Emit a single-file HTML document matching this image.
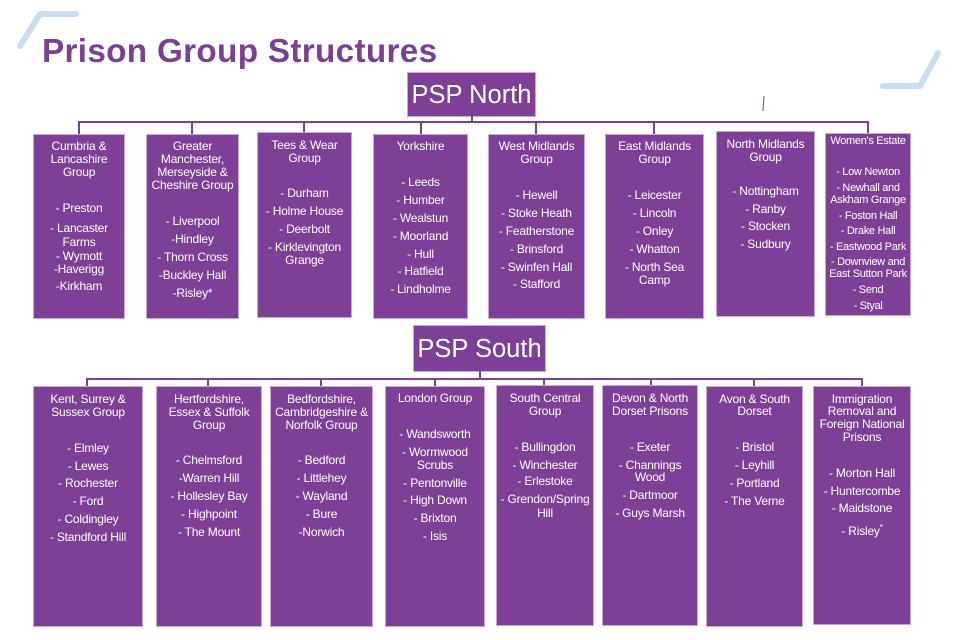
<!DOCTYPE html>
<html><head><meta charset="utf-8"><style>
body{margin:0;width:960px;height:640px;background:#fff;position:relative;overflow:hidden;font-family:"Liberation Sans",Arial,sans-serif}
.c{position:absolute;top:0;height:640px}
.bx{position:absolute;left:0;right:0;background:#7e3f96;border:1px solid #c9a9d4;box-sizing:border-box}
.c p{position:absolute;left:-4px;right:-4px;margin:0;text-align:center;color:#fff;font-size:12px;line-height:14px;height:14px;white-space:nowrap;letter-spacing:-0.2px}
.w p{font-size:11px;letter-spacing:-0.3px}
.ln{position:absolute;background:#7b3f94}
.h{position:absolute;background:#7e3f96;color:#fff;font-size:25.5px;text-align:center;border:1px solid #c9a9d4;box-sizing:border-box;white-space:nowrap}
</style></head><body>
<svg width="960" height="640" style="position:absolute;left:0;top:0">
<polyline points="20,46 40,14 76,14" fill="none" stroke="#c9dcf0" stroke-width="6" stroke-linecap="round" stroke-linejoin="round"/>
<polyline points="938,53 920,86 883,86" fill="none" stroke="#c9dcf0" stroke-width="6" stroke-linecap="round" stroke-linejoin="round"/>
<line x1="764" y1="96" x2="763" y2="111" stroke="#7b3f94" stroke-width="1"/>
</svg>
<div style="position:absolute;left:42px;top:33px;font-size:33.3px;font-weight:bold;color:#7b3f94;letter-spacing:0.3px;white-space:nowrap">Prison Group Structures</div>
<div class="h" style="left:407px;top:72px;width:129px;height:45px;line-height:44px">PSP North</div>
<div class="ln" style="left:471px;top:116px;width:2px;height:6px"></div>
<div class="ln" style="left:78px;top:121px;width:791px;height:2px"></div>
<div class="ln" style="left:78px;top:121px;width:2px;height:13px"></div>
<div class="ln" style="left:191px;top:121px;width:2px;height:13px"></div>
<div class="ln" style="left:303px;top:121px;width:2px;height:11px"></div>
<div class="ln" style="left:420px;top:121px;width:2px;height:13px"></div>
<div class="ln" style="left:535px;top:121px;width:2px;height:13px"></div>
<div class="ln" style="left:653px;top:121px;width:2px;height:13px"></div>
<div class="ln" style="left:867px;top:121px;width:2px;height:12px"></div>

<div class="c" style="left:33px;width:92px"><div class="bx" style="top:134px;height:185px"></div>
<p style="top:139px">Cumbria &amp;</p><p style="top:152px">Lancashire</p><p style="top:165px">Group</p>
<p style="top:201px">- Preston</p><p style="top:221px">- Lancaster</p><p style="top:235px">Farms</p><p style="top:249px">- Wymott</p><p style="top:262px">-Haverigg</p><p style="top:279px">-Kirkham</p></div>
<div class="c" style="left:146px;width:93px"><div class="bx" style="top:134px;height:185px"></div>
<p style="top:139px">Greater</p><p style="top:152px">Manchester,</p><p style="top:165px">Merseyside &amp;</p><p style="top:178px">Cheshire Group</p>
<p style="top:214px">- Liverpool</p><p style="top:232px">-Hindley</p><p style="top:250px">- Thorn Cross</p><p style="top:268px">-Buckley Hall</p><p style="top:286px">-Risley*</p></div>
<div class="c" style="left:257px;width:95px"><div class="bx" style="top:132px;height:186px"></div>
<p style="top:138px">Tees &amp; Wear</p><p style="top:151px">Group</p>
<p style="top:186px">- Durham</p><p style="top:204px">- Holme House</p><p style="top:222px">- Deerbolt</p><p style="top:240px">- Kirklevington</p><p style="top:253px">Grange</p></div>
<div class="c" style="left:373px;width:95px"><div class="bx" style="top:134px;height:185px"></div>
<p style="top:139px">Yorkshire</p>
<p style="top:175px">- Leeds</p><p style="top:193px">- Humber</p><p style="top:211px">- Wealstun</p><p style="top:229px">- Moorland</p><p style="top:247px">- Hull</p><p style="top:264px">- Hatfield</p><p style="top:282px">- Lindholme</p></div>
<div class="c" style="left:488px;width:97px"><div class="bx" style="top:134px;height:185px"></div>
<p style="top:139px">West Midlands</p><p style="top:152px">Group</p>
<p style="top:188px">- Hewell</p><p style="top:206px">- Stoke Heath</p><p style="top:224px">- Featherstone</p><p style="top:242px">- Brinsford</p><p style="top:260px">- Swinfen Hall</p><p style="top:277px">- Stafford</p></div>
<div class="c" style="left:605px;width:99px"><div class="bx" style="top:134px;height:185px"></div>
<p style="top:139px">East Midlands</p><p style="top:152px">Group</p>
<p style="top:188px">- Leicester</p><p style="top:206px">- Lincoln</p><p style="top:224px">- Onley</p><p style="top:242px">- Whatton</p><p style="top:260px">- North Sea</p><p style="top:273px">Camp</p></div>
<div class="c" style="left:716px;width:99px"><div class="bx" style="top:131px;height:186px"></div>
<p style="top:137px">North Midlands</p><p style="top:150px">Group</p>
<p style="top:184px">- Nottingham</p><p style="top:202px">- Ranby</p><p style="top:219px">- Stocken</p><p style="top:237px">- Sudbury</p></div>
<div class="c w" style="left:825px;width:86px"><div class="bx" style="top:133px;height:183px"></div>
<p style="top:134px">Women's Estate</p>
<p style="top:165px">- Low Newton</p><p style="top:181px">- Newhall and</p><p style="top:193px">Askham Grange</p><p style="top:209px">- Foston Hall</p><p style="top:224px">- Drake Hall</p><p style="top:240px">- Eastwood Park</p><p style="top:255px">- Downview and</p><p style="top:267px">East Sutton Park</p><p style="top:283px">- Send</p><p style="top:299px">- Styal</p></div>

<div class="h" style="left:413px;top:325px;width:133px;height:47px;line-height:46px">PSP South</div>
<div class="ln" style="left:479px;top:371px;width:2px;height:9px"></div>
<div class="ln" style="left:86px;top:378px;width:777px;height:2px"></div>
<div class="ln" style="left:86px;top:378px;width:2px;height:8px"></div>
<div class="ln" style="left:207px;top:378px;width:2px;height:8px"></div>
<div class="ln" style="left:320px;top:378px;width:2px;height:8px"></div>
<div class="ln" style="left:434px;top:378px;width:2px;height:8px"></div>
<div class="ln" style="left:543px;top:378px;width:2px;height:8px"></div>
<div class="ln" style="left:650px;top:378px;width:2px;height:8px"></div>
<div class="ln" style="left:753px;top:378px;width:2px;height:8px"></div>
<div class="ln" style="left:861px;top:378px;width:2px;height:8px"></div>

<div class="c" style="left:33px;width:110px"><div class="bx" style="top:386px;height:241px"></div>
<p style="top:392px">Kent, Surrey &amp;</p><p style="top:405px">Sussex Group</p>
<p style="top:441px">- Elmley</p><p style="top:459px">- Lewes</p><p style="top:476px">- Rochester</p><p style="top:494px">- Ford</p><p style="top:512px">- Coldingley</p><p style="top:530px">- Standford Hill</p></div>
<div class="c" style="left:156px;width:106px"><div class="bx" style="top:386px;height:241px"></div>
<p style="top:392px">Hertfordshire,</p><p style="top:405px">Essex &amp; Suffolk</p><p style="top:418px">Group</p>
<p style="top:453px">- Chelmsford</p><p style="top:471px">-Warren Hill</p><p style="top:489px">- Hollesley Bay</p><p style="top:507px">- Highpoint</p><p style="top:525px">- The Mount</p></div>
<div class="c" style="left:270px;width:103px"><div class="bx" style="top:386px;height:241px"></div>
<p style="top:392px">Bedfordshire,</p><p style="top:405px">Cambridgeshire &amp;</p><p style="top:418px">Norfolk Group</p>
<p style="top:453px">- Bedford</p><p style="top:471px">- Littlehey</p><p style="top:489px">- Wayland</p><p style="top:507px">- Bure</p><p style="top:525px">-Norwich</p></div>
<div class="c" style="left:385px;width:100px"><div class="bx" style="top:386px;height:241px"></div>
<p style="top:391px">London Group</p>
<p style="top:427px">- Wandsworth</p><p style="top:445px">- Wormwood</p><p style="top:458px">Scrubs</p><p style="top:476px">- Pentonville</p><p style="top:493px">- High Down</p><p style="top:511px">- Brixton</p><p style="top:529px">- Isis</p></div>
<div class="c" style="left:496px;width:98px"><div class="bx" style="top:385px;height:241px"></div>
<p style="top:391px">South Central</p><p style="top:404px">Group</p>
<p style="top:440px">- Bullingdon</p><p style="top:458px">- Winchester</p><p style="top:474px">- Erlestoke</p><p style="top:492px">- Grendon/Spring</p><p style="top:506px">Hill</p></div>
<div class="c" style="left:602px;width:96px"><div class="bx" style="top:385px;height:241px"></div>
<p style="top:391px">Devon &amp; North</p><p style="top:404px">Dorset Prisons</p>
<p style="top:440px">- Exeter</p><p style="top:458px">- Channings</p><p style="top:470px">Wood</p><p style="top:488px">- Dartmoor</p><p style="top:506px">- Guys Marsh</p></div>
<div class="c" style="left:706px;width:97px"><div class="bx" style="top:386px;height:241px"></div>
<p style="top:392px">Avon &amp; South</p><p style="top:404px">Dorset</p>
<p style="top:440px">- Bristol</p><p style="top:458px">- Leyhill</p><p style="top:476px">- Portland</p><p style="top:494px">- The Verne</p></div>
<div class="c" style="left:813px;width:98px"><div class="bx" style="top:386px;height:239px"></div>
<p style="top:392px">Immigration</p><p style="top:404px">Removal and</p><p style="top:417px">Foreign National</p><p style="top:430px">Prisons</p>
<p style="top:466px">- Morton Hall</p><p style="top:484px">- Huntercombe</p><p style="top:501px">- Maidstone</p><p style="top:521px">- Risley<sup style="font-size:8px">*</sup></p></div>
</body></html>
